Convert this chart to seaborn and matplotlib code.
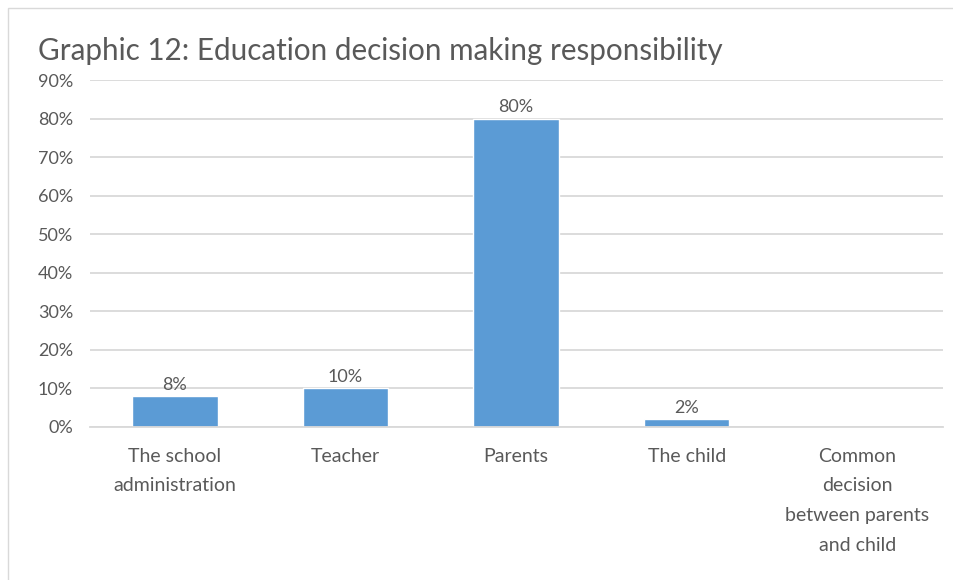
import pandas as pd
import matplotlib.pyplot as plt
import seaborn as sns
from matplotlib.patches import Rectangle
from matplotlib.ticker import PercentFormatter

categories = ["The school\nadministration", "Teacher", "Parents", "The child",
              "Common\ndecision\nbetween parents\nand child"]
values = [8, 10, 80, 2, 0]
labels = ["8%", "10%", "80%", "2%", ""]
y_ticks = [0, 10, 20, 30, 40, 50, 60, 70, 80, 90]

sns.set_theme(style="white")
plt.rcParams["font.family"] = ["Lato", "DejaVu Sans"]

TEXT = "#595959"
GRID = "#D9D9D9"
BAR = "#5B9BD5"

df = pd.DataFrame({"category": categories, "value": values})

fig = plt.figure(figsize=(9.54, 5.8), dpi=100)
ax = fig.add_axes([0.094, 0.264, 0.894, 0.598])

sns.barplot(data=df, x="category", y="value", color=BAR, width=0.5,
            saturation=1, ax=ax)

for bar, lab in zip(ax.patches, labels):
    if lab:
        ax.text(bar.get_x() + bar.get_width() / 2, bar.get_height() + 0.8, lab,
                ha="center", va="bottom", fontsize=13, color=TEXT)

ax.set_ylim(0, 90)
ax.set_xlim(-0.5, 4.5)
ax.set_yticks(y_ticks)
ax.yaxis.set_major_formatter(PercentFormatter(decimals=0))
ax.yaxis.grid(True, color=GRID, linewidth=1.3)
ax.set_axisbelow(True)
for s in ["top", "right", "left"]:
    ax.spines[s].set_visible(False)
ax.spines["bottom"].set_color(GRID)
ax.spines["bottom"].set_linewidth(1.3)
ax.tick_params(axis="y", labelsize=13, colors=TEXT, length=0, pad=12)
ax.tick_params(axis="x", labelsize=14, colors=TEXT, length=0, pad=15)
for t in ax.get_xticklabels():
    t.set_linespacing(1.9)
    t.set_va("top")
ax.set_xlabel("")
ax.set_ylabel("")

fig.text(0.04, 0.912, "Graphic 12: Education decision making responsibility",
         fontsize=21.3, color=TEXT, ha="left", va="center")

fig.patches.append(Rectangle((0.008, -0.1), 1.1, 1.086, transform=fig.transFigure,
                             fill=False, edgecolor=GRID, linewidth=1))

fig.savefig("out.png", dpi=100)
plt.close()
